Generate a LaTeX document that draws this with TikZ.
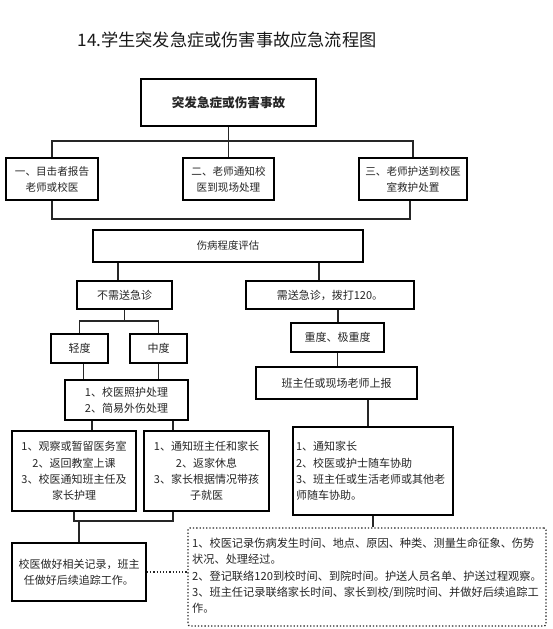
\documentclass[tikz,border=0pt]{standalone}
\usepackage{fontspec}
\newfontfamily\cjk{Noto Sans CJK SC}
\begin{document}
\begin{tikzpicture}[x=1pt,y=-1pt,
  box/.style={draw=black,line width=2pt,inner sep=0pt,align=center,
    font=\cjk\fontsize{11}{16.3}\selectfont,text=black!85},
  tbox/.style={box,line width=2.6pt},
  conn/.style={draw=black!85,line width=1.2pt},
  dotbox/.style={draw=black!85,line width=1.3pt,dotted,rounded corners=2pt,
    inner xsep=3pt,inner ysep=0pt,
    font=\cjk\fontsize{11.2}{16.3}\selectfont,text=black!85}]
\useasboundingbox (0,0) rectangle (552,629);
\fill[white] (0,0) rectangle (552,629);
% title
\node[font=\cjk\fontsize{17.2}{19}\selectfont,text=black!90] (title) at (227,40) {14.学生突发急症或伤害事故应急流程图};
% nodes
\node[tbox,minimum width=175,minimum height=47,font=\cjk\bfseries\fontsize{12.6}{16}\selectfont] (top) at (228.5,102.5) {突发急症或伤害事故};
\node[tbox,minimum width=92,minimum height=42,font=\cjk\fontsize{10.6}{16}\selectfont] (b1) at (52,179) {一、目击者报告\\老师或校医};
\node[tbox,minimum width=91,minimum height=42,font=\cjk\fontsize{10.6}{16}\selectfont] (b2) at (228.5,179) {二、老师通知校\\医到现场处理};
\node[tbox,minimum width=108,minimum height=42,font=\cjk\fontsize{10.6}{16}\selectfont] (b3) at (413,179) {三、老师护送到校医\\室救护处置};
\node[tbox,minimum width=270,minimum height=32,font=\cjk\fontsize{10.4}{16}\selectfont] (eval) at (228,246) {伤病程度评估};
\node[box,minimum width=95,minimum height=28] (noER) at (124.5,295) {不需送急诊};
\node[box,minimum width=168,minimum height=28] (ER) at (330,295) {需送急诊，拨打120。};
\node[box,minimum width=57,minimum height=29] (mild) at (79.5,348.5) {轻度};
\node[box,minimum width=57,minimum height=29] (mod) at (158.5,348.5) {中度};
\node[box,minimum width=123,minimum height=40] (care) at (126.5,400) {1、校医照护处理\\2、简易外伤处理};
\node[box,minimum width=124,minimum height=80] (boxA) at (74,471) {1、观察或暂留医务室\\2、返回教室上课\\3、校医通知班主任及\\家长护理};
\node[box,minimum width=125,minimum height=80] (boxB) at (206.5,471) {1、通知班主任和家长\\2、返家休息\\3、家长根据情况带孩\\子就医};
\node[box,minimum width=93,minimum height=29] (severe) at (337.5,337.5) {重度、极重度};
\node[box,minimum width=161,minimum height=32] (report) at (336.5,383) {班主任或现场老师上报};
\node[box,text width=154,inner xsep=3pt,align=left,minimum height=88] (notify) at (373,471) {1、通知家长\\2、校医或护士随车协助\\3、班主任或生活老师或其他老\\师随车协助。};
\node[box,minimum width=134,minimum height=58] (record) at (79,572) {校医做好相关记录，班主\\任做好后续追踪工作。};
\node[dotbox,minimum width=358,minimum height=98] (dot) at (367,577) {\begin{tabular}{@{}l@{}}1、校医记录伤病发生时间、地点、原因、种类、测量生命征象、伤势\\状况、处理经过。\\2、登记联络120到校时间、到院时间。护送人员名单、护送过程观察。\\3、班主任记录联络家长时间、家长到校/到院时间、并做好后续追踪工\\作。\hspace{330pt}\end{tabular}};
% connectors
\coordinate (j1) at (228.5,141);
\coordinate (j2) at (410,219);
\coordinate (j3) at (124.5,321);
\coordinate (j4) at (173,521);
\draw[conn] (top.south) -- (b2.north);
\draw[conn] (b1.north) |- (j1) -| (b3.north);
\draw[conn] (b1.south) |- (j2) -- (j2 |- b3.south);
\draw[conn] ([xshift=-110pt]eval.south) -- ([xshift=-110pt]eval.south |- noER.north);
\draw[conn] ([xshift=91pt]eval.south) -- ([xshift=91pt]eval.south |- ER.north);
\draw[conn] (noER.south) -- (j3);
\draw[conn] (mild.north) |- (j3) -| (mod.north);
\draw[conn] ([xshift=4pt]mild.south) -- ([xshift=4pt]mild.south |- care.north);
\draw[conn] (mod.south) -- (mod.south |- care.north);
\draw[conn] ([xshift=-34.5pt]care.south) -- ([xshift=-34.5pt]care.south |- boxA.north);
\draw[conn] ([xshift=46.5pt]care.south) -- ([xshift=46.5pt]care.south |- boxB.north);
\draw[conn] ([xshift=8pt]ER.south) -- ([xshift=8pt]ER.south |- severe.north);
\draw[conn] (severe.south) -- (severe.south |- report.north);
\draw[conn] ([xshift=31.5pt]report.south) -- ([xshift=31.5pt]report.south |- notify.north);
\draw[conn] (boxA.south) |- (j4) -- (j4 |- boxB.south);
\draw[conn] (record.north) -- (record.north |- j4);
\draw[conn] (notify.south) -- (notify.south |- dot.north);
\draw[conn,dotted] (record.east) -- (record.east -| dot.west);
\end{tikzpicture}
\end{document}
